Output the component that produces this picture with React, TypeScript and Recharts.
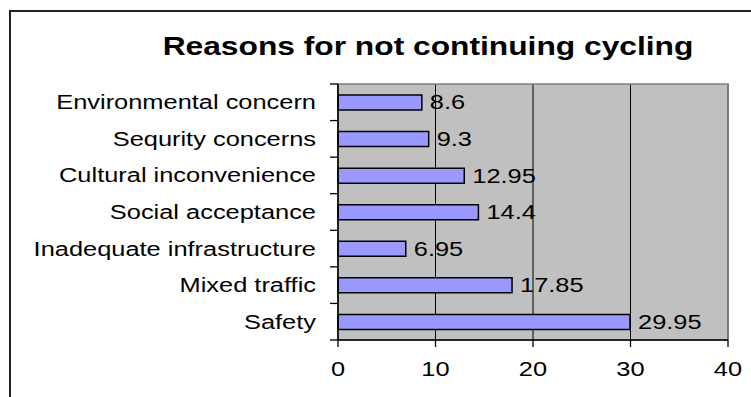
import {
  Bar,
  BarChart,
  CartesianGrid,
  LabelList,
  ReferenceArea,
  XAxis,
  YAxis,
} from 'recharts';

// reasons, top to bottom as shown
const reasons = [
  'Environmental concern',
  'Sequrity concerns',
  'Cultural inconvenience',
  'Social acceptance',
  'Inadequate infrastructure',
  'Mixed traffic',
  'Safety',
];
const shares = [8.6, 9.3, 12.95, 14.4, 6.95, 17.85, 29.95];
const xTicks = [0, 10, 20, 30, 40];

const data = reasons.map((reason, i) => ({ reason, value: shares[i] }));

const W = 751;
const H = 397;
const M_TOP = 84;
const X_AXIS_H = 57;
const Y_AXIS_W = 338;
const M_RIGHT = 23;
const BAND = (H - M_TOP - X_AXIS_H) / reasons.length;

const FONT = '"Liberation Sans", Arial, sans-serif';
const SX = 1.27; // the original picture is stretched sideways

function StretchText({ x, y, anchor, size, bold, children }: any) {
  return (
    <g transform={`translate(${x},${y}) scale(${SX},1)`}>
      <text
        x={0}
        y={0}
        textAnchor={anchor}
        dominantBaseline="central"
        fontFamily={FONT}
        fontSize={size}
        fontWeight={bold ? 'bold' : 'normal'}
        fill="#000"
      >
        {children}
      </text>
    </g>
  );
}

function CategoryTick(props: any) {
  const { y, payload, index } = props;
  const ax = Y_AXIS_W;
  return (
    <g>
      <line x1={ax - 8} x2={ax} y1={y + BAND / 2} y2={y + BAND / 2} stroke="#000" strokeWidth={1.3} />
      {index === 0 && (
        <line x1={ax - 8} x2={ax} y1={y - BAND / 2} y2={y - BAND / 2} stroke="#000" strokeWidth={1.3} />
      )}
      <StretchText x={ax - 22} y={y} anchor="end" size={20}>
        {payload.value}
      </StretchText>
    </g>
  );
}

function ValueTick(props: any) {
  const { x, y, payload } = props;
  return (
    <StretchText x={x} y={y + 20} anchor="middle" size={20}>
      {payload.value}
    </StretchText>
  );
}

function ValueLabel(props: any) {
  const { x, y, width, height, value } = props;
  return (
    <StretchText x={x + width + 8} y={y + height / 2} anchor="start" size={20}>
      {value}
    </StretchText>
  );
}

export default function App() {
  return (
    <div
      style={{
        position: 'absolute',
        left: 0,
        top: 0,
        width: W,
        height: H,
        overflow: 'hidden',
        background: '#fff',
      }}
    >
      <div
        style={{
          position: 'absolute',
          left: 9,
          top: 10,
          width: 900,
          height: 600,
          border: '2px solid #222',
        }}
      />
      <svg style={{ position: 'absolute', left: 0, top: 0 }} width={W} height={70}>
        <StretchText x={428} y={46} anchor="middle" size={25} bold>
          Reasons for not continuing cycling
        </StretchText>
      </svg>
      <div style={{ position: 'absolute', left: 0, top: 0 }}>
        <BarChart
          width={W}
          height={H}
          data={data}
          layout="vertical"
          barSize={15}
          margin={{ top: M_TOP, right: M_RIGHT, bottom: 0, left: 0 }}
        >
          <CartesianGrid
            horizontal={false}
            stroke="#000"
            strokeWidth={1}
            fill="#c0c0c0"
            fillOpacity={1}
          />
          <ReferenceArea x1={0} x2={40} fill="none" stroke="#808080" strokeWidth={1.5} />
          <XAxis
            type="number"
            domain={[0, 40]}
            ticks={xTicks}
            interval={0}
            height={X_AXIS_H}
            tickSize={7}
            axisLine={{ stroke: '#000', strokeWidth: 1.5 }}
            tickLine={{ stroke: '#000', strokeWidth: 1.3 }}
            tick={<ValueTick />}
          />
          <YAxis
            type="category"
            dataKey="reason"
            width={Y_AXIS_W}
            interval={0}
            tickLine={false}
            tickSize={0}
            axisLine={{ stroke: '#000', strokeWidth: 1.5 }}
            tick={<CategoryTick />}
          />
          <Bar
            dataKey="value"
            fill="#9999ff"
            stroke="#000"
            strokeWidth={1.5}
            isAnimationActive={false}
          >
            <LabelList dataKey="value" content={<ValueLabel />} />
          </Bar>
        </BarChart>
      </div>
    </div>
  );
}
